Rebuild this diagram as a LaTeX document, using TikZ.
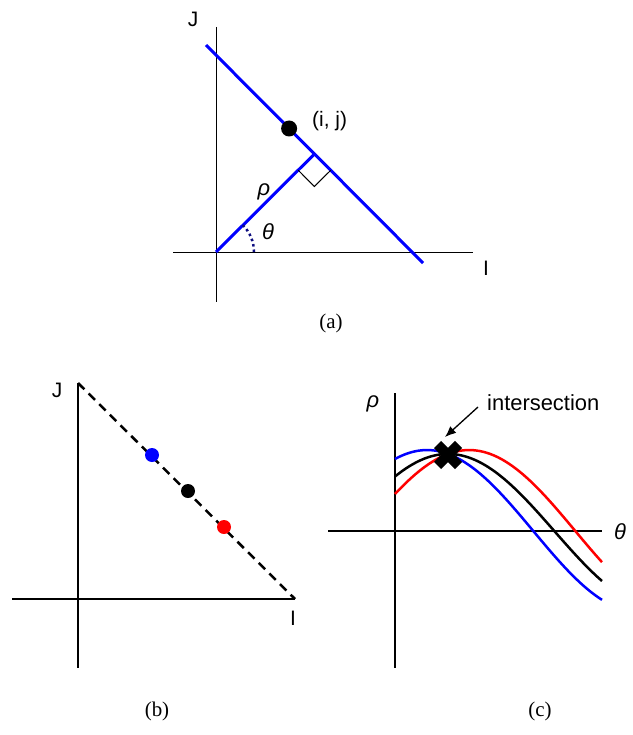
\documentclass[tikz,border=0pt]{standalone}
\usepackage{fontspec}
\setmainfont{Liberation Serif}
\newfontfamily\sansf{Liberation Sans}
\usepackage{tikz}
\usetikzlibrary{calc,arrows.meta}
\definecolor{navyblue}{rgb}{0.05,0.05,0.5}

\begin{document}
\begin{tikzpicture}[x=1bp,y=-1bp,
    thinaxis/.style={line width=1bp},
    thickaxis/.style={line width=2.5bp},
    houghline/.style={blue,line width=3bp},
    lbl/.style={font=\sansf\fontsize{21}{24}\selectfont,inner sep=0pt},
    greek/.style={font=\sansf\itshape\fontsize{22}{24}\selectfont,inner sep=0pt},
    caption/.style={font=\fontsize{21}{24}\selectfont,inner sep=0pt},
    curve/.style={line width=2.5bp},
    xbar/.style={line width=10bp}]
            \useasboundingbox (0,0) rectangle (633,735);
            % (a) line in image space
            \coordinate (oa) at (216,252);
            \draw[thinaxis] (216,27) -- (216,302);
            \draw[thinaxis] (173,252) -- (473,252);
            \node[lbl] (ja) at (193,19) {J};
            \node[lbl] (ia) at (486,268) {I};
            \coordinate (la1) at (206,45);
            \coordinate (la2) at (423,263);
            \draw[houghline] (la1) -- (la2);
            \coordinate (foot) at ($(la1)!(oa)!(la2)$);
            \draw[houghline] (oa) -- (foot);
            \coordinate (ra1) at ($(foot)!23bp!(oa)$);
            \coordinate (ra3) at ($(foot)!23bp!(la2)$);
            \draw[thinaxis] (ra1) -- ($(ra1)+(ra3)-(foot)$) -- (ra3);
            \fill ($(la1)!0.383!(la2)$) circle [radius=8];
            \node[lbl,anchor=west] (pij) at (312,121) {(i, j)};
            \node[greek] (rhoa) at (264,192) {ρ};
            \node[greek] (thetaa) at (268,232) {θ};
            \draw[navyblue,line width=2.5bp,dash pattern=on 2.5bp off 3bp] (254,252) arc[start angle=0,end angle=-45,radius=38];
            \node[caption] (capa) at (331,323) {(a)};
            % (b) points on a line
            \coordinate (ob) at (78,599);
            \draw[thickaxis] (78,383) -- (78,668);
            \draw[thickaxis] (12,599) -- (295,599);
            \draw[thickaxis,dash pattern=on 9bp off 6bp] (78,383) -- (295,599);
            \fill[blue] (152,455) circle [radius=7];
            \fill[black] (188,491) circle [radius=7];
            \fill[red] (224,527) circle [radius=7];
            \node[lbl] (jb) at (57,390) {J};
            \node[lbl] (ib) at (293,618) {I};
            \node[caption] (capb) at (157,711) {(b)};
            % (c) parameter space
            \draw[thickaxis] (395,393) -- (395,668);
            \draw[thickaxis] (328,531) -- (602,531);
            \node[greek] (rhoc) at (373,404) {ρ};
            \node[greek] (thetac) at (620,532) {θ};
            \draw[curve,red] plot[domain=0:207,samples=90,smooth] ({395+\x},{531-(37*cos(\x*0.8475)+72*sin(\x*0.8475))});
            \draw[curve,blue] plot[domain=0:207,samples=90,smooth] ({395+\x},{531-(72*cos(\x*0.8475)+37*sin(\x*0.8475))});
            \draw[curve,black] plot[domain=0:207,samples=90,smooth] ({395+\x},{531-(54.5*cos(\x*0.8475)+54.5*sin(\x*0.8475))});
            \coordinate (xc) at (448,455);
            \draw[xbar] ($(xc)+(-10.5,-10.5)$) -- ($(xc)+(10.5,10.5)$);
            \draw[xbar] ($(xc)+(10.5,-10.5)$) -- ($(xc)+(-10.5,10.5)$);
            \node[lbl,anchor=west,font=\sansf\fontsize{22}{24}\selectfont] (inter) at (487,403) {intersection};
            \draw[line width=1.3bp,-{Latex[length=11bp,width=9bp]}] ($(inter.west)+(-9,4)$) -- ($(xc)+(-3,-18)$);
            \node[caption] (capc) at (540,711) {(c)};
\end{tikzpicture}
\end{document}
